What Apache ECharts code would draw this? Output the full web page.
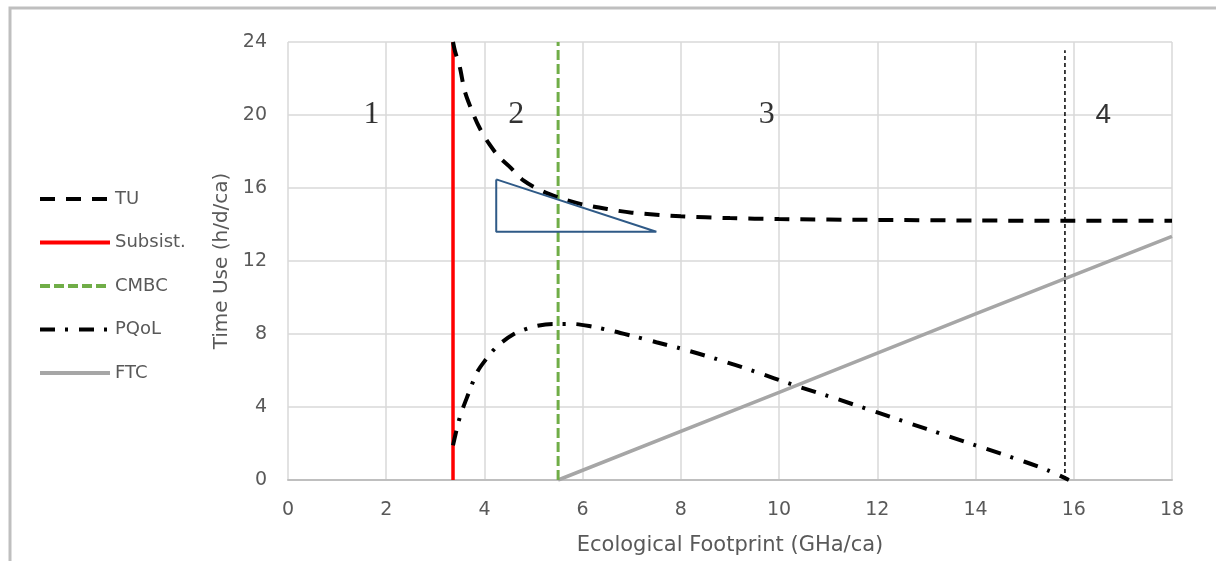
<!DOCTYPE html>
<html><head><meta charset="utf-8">
<script src="https://cdn.jsdelivr.net/npm/echarts@6/dist/echarts.min.js"></script>
<style>html,body{margin:0;padding:0;background:#fff}#c{width:1216px;height:561px}</style>
</head><body><div id="c"></div>
<script>
// ---- data ----
const xTicks = [0,2,4,6,8,10,12,14,16,18];
const yTicks = [0,4,8,12,16,20,24];
const tuX = [3.36,3.4,3.5,3.6,3.75,3.9,4.1,4.3,4.5,4.8,5.2,5.6,6.0,6.5,7,8,9,10,12,14,16,18];
const tuY = [24,23.5,22.6,21.3,20.2,19.3,18.4,17.7,17.2,16.4,15.8,15.4,15.1,14.85,14.65,14.45,14.35,14.3,14.25,14.22,14.2,14.2];
const subsistX = [3.36,3.36];
const subsistY = [0,24];
const cmbcX = [5.5,5.5];
const cmbcY = [0,24];
const pqolX = [3.36,3.5,3.67,3.85,4.0,4.25,4.6,5.0,5.4,5.8,6.2,6.6,7.0,7.5,8,8.7,9.5,10.3,11,12,13,14,15,15.5,15.9];
const pqolY = [1.9,3.45,4.7,5.9,6.5,7.3,8.0,8.4,8.55,8.55,8.4,8.17,7.9,7.55,7.2,6.65,5.95,5.2,4.6,3.7,2.8,1.9,1.0,0.5,0];
const ftcX = [5.5,10,14,18];
const ftcY = [0,4.8,9.1,13.35];
const limitX = [15.82,15.82];
const limitY = [0,23.55];
const triX = [4.24,4.24,7.5,4.24];
const triY = [16.47,13.6,13.6,16.47];
const regionLabels = ['1','2','3','4'];
const regionX = [1.7,4.65,9.75,16.6];
const regionY = [20,20,20,20];
const legendNames = ['TU','Subsist.','CMBC','PQoL','FTC'];

const zip = (xs, ys) => xs.map((x,i)=>[x, ys[i]]);
const txt = '#595959';
const font = 'DejaVu Sans';

const chart = echarts.init(document.getElementById('c'));
chart.setOption({
  animation:false,
  backgroundColor:'#fff',
  graphic:[{type:'rect',shape:{x:10,y:8,width:1220,height:570},style:{fill:'none',stroke:'#BFBFBF',lineWidth:3},silent:true}],
  grid:{left:288,right:44,top:42,bottom:78},
  legend:{
    data:legendNames, orient:'vertical', left:38, top:190, padding:0, itemWidth:70, itemHeight:18, itemGap:25.5,
    textStyle:{color:txt,fontFamily:font,fontSize:18},
    itemStyle:{opacity:0},
    lineStyle:{width:4}
  },
  xAxis:{type:'value',min:0,max:18,interval:2,
    name:'Ecological Footprint (GHa/ca)',nameLocation:'middle',nameGap:55,
    nameTextStyle:{color:txt,fontFamily:font,fontSize:21},
    axisLabel:{color:txt,fontFamily:font,fontSize:19,margin:21,formatter:v=>xTicks.includes(v)?String(v):''},
    axisLine:{show:true,lineStyle:{color:'#BFBFBF',width:2}},axisTick:{show:false},
    splitLine:{show:true,lineStyle:{color:'#D9D9D9',width:1.5}}},
  yAxis:{type:'value',min:0,max:24,interval:4,
    name:'Time Use (h/d/ca)',nameLocation:'middle',nameGap:48,
    nameTextStyle:{color:txt,fontFamily:font,fontSize:20},
    axisLabel:{color:txt,fontFamily:font,fontSize:19,margin:21,formatter:v=>yTicks.includes(v)?String(v):''},
    axisLine:{show:false},axisTick:{show:false},
    splitLine:{show:true,lineStyle:{color:'#D9D9D9',width:1.5}}},
  series:[
    {name:'FTC',type:'line',data:zip(ftcX,ftcY),symbol:'none',z:2,
      lineStyle:{color:'#A6A6A6',width:3.5},itemStyle:{color:'#A6A6A6'}},
    {name:'limit',type:'line',data:zip(limitX,limitY),symbol:'none',z:2,
      lineStyle:{color:'#000',width:1.5,type:[4,3]},itemStyle:{color:'#000'}},
    {name:'Subsist.',type:'line',data:zip(subsistX,subsistY),symbol:'none',z:3,
      lineStyle:{color:'#FF0000',width:3.5},itemStyle:{color:'#FF0000'}},
    {name:'CMBC',type:'line',data:zip(cmbcX,cmbcY),symbol:'none',z:3,
      lineStyle:{color:'#70AD47',width:3,type:[10,4]},itemStyle:{color:'#70AD47'}},
    {name:'TU',type:'line',data:zip(tuX,tuY),symbol:'none',smooth:0.3,z:4,
      lineStyle:{color:'#000',width:4,type:[15,11]},itemStyle:{color:'#000'}},
    {name:'PQoL',type:'line',data:zip(pqolX,pqolY),symbol:'none',smooth:0.3,z:4,
      lineStyle:{color:'#000',width:4,type:[15,10,3,11]},itemStyle:{color:'#000'}},
    {name:'triangle',type:'line',data:zip(triX,triY),symbol:'none',z:5,
      lineStyle:{color:'#2F5A87',width:2},itemStyle:{color:'#2F5A87'}},
    {name:'regions',type:'scatter',symbolSize:0,z:6,
      data:zip(regionX,regionY).map((v,i)=>({value:v,label:{fontFamily:i===3?'Liberation Sans':'Liberation Serif',fontSize:i===3?28:32}})),
      label:{show:true,position:'inside',formatter:p=>regionLabels[p.dataIndex],
        fontFamily:'Liberation Serif',fontSize:32,color:'#000'}}
  ]
});
</script></body></html>
